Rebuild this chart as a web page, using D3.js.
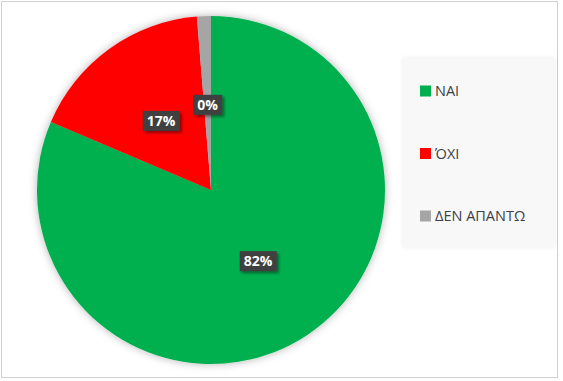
<!DOCTYPE html>
<html>
<head>
<meta charset="utf-8">
<script src="https://cdn.jsdelivr.net/npm/d3@7"></script>
<style>
  html, body { margin: 0; padding: 0; background: #ffffff; }
  svg { display: block; }
</style>
</head>
<body>
<svg id="chart" width="563" height="381"></svg>
<script>
// ---- data ----
const categories = ["ΝΑΙ", "ΌΧΙ", "ΔΕΝ ΑΠΑΝΤΩ"];
const values = [81.4, 17.3, 1.3];
const valueLabels = ["82%", "17%", "0%"];
const colors = ["#00b050", "#ff0000", "#a5a5a5"];

const svg = d3.select("#chart");

// defs: shadows
const defs = svg.append("defs");
const f1 = defs.append("filter").attr("id", "pieShadow")
  .attr("x", "-20%").attr("y", "-20%").attr("width", "140%").attr("height", "140%");
f1.append("feDropShadow").attr("dx", 0).attr("dy", 0).attr("stdDeviation", 4)
  .attr("flood-color", "#000").attr("flood-opacity", 0.3);
const f2 = defs.append("filter").attr("id", "lblShadow")
  .attr("x", "-30%").attr("y", "-30%").attr("width", "160%").attr("height", "160%");
f2.append("feDropShadow").attr("dx", 2).attr("dy", 2).attr("stdDeviation", 1.5)
  .attr("flood-color", "#000").attr("flood-opacity", 0.45);
const f3 = defs.append("filter").attr("id", "legShadow")
  .attr("x", "-20%").attr("y", "-20%").attr("width", "140%").attr("height", "140%");
f3.append("feDropShadow").attr("dx", 0).attr("dy", 0).attr("stdDeviation", 2)
  .attr("flood-color", "#000").attr("flood-opacity", 0.08);

// outer border
svg.append("rect").attr("x", 1.5).attr("y", 1.5).attr("width", 556).attr("height", 376)
  .attr("fill", "#ffffff").attr("stroke", "#d0d0d0").attr("stroke-width", 1);

// pie
const cx = 211, cy = 190, R = 174;
const pie = d3.pie().sort(null).value(d => d)(values);
const arc = d3.arc().innerRadius(0).outerRadius(R);
const labelArc = d3.arc().innerRadius(R * 0.49).outerRadius(R * 0.49);

const g = svg.append("g").attr("transform", `translate(${cx},${cy})`);
g.append("g").attr("filter", "url(#pieShadow)")
  .selectAll("path").data(pie).join("path")
  .attr("d", arc)
  .attr("fill", (d, i) => colors[i]);

// data labels
const lg = g.selectAll("g.lbl").data(pie).join("g").attr("class", "lbl")
  .attr("transform", d => {
    const [x, y] = labelArc.centroid(d);
    return `translate(${x},${y})`;
  });
lg.each(function(d, i) {
  const sel = d3.select(this);
  const t = sel.append("text")
    .attr("text-anchor", "middle").attr("dy", "0.37em")
    .attr("font-family", "'Open Sans', 'Noto Sans', sans-serif")
    .attr("font-weight", "bold").attr("font-size", 14)
    .attr("fill", "#ffffff").text(valueLabels[i]);
  const bb = t.node().getBBox();
  sel.insert("rect", "text")
    .attr("x", bb.x - 4).attr("y", -10).attr("width", bb.width + 8).attr("height", 20)
    .attr("fill", "#404040").attr("filter", "url(#lblShadow)");
});

// legend
svg.append("rect").attr("x", 403).attr("y", 58).attr("width", 152).attr("height", 189)
  .attr("fill", "#f8f8f8").attr("filter", "url(#legShadow)");
const legY = d3.scalePoint().domain(categories).range([91, 216]);
const leg = svg.selectAll("g.leg").data(categories).join("g").attr("class", "leg")
  .attr("transform", d => `translate(420,${legY(d)})`);
leg.append("rect").attr("x", 0).attr("y", -5.5).attr("width", 11).attr("height", 11)
  .attr("fill", (d, i) => colors[i]);
leg.append("text").attr("x", 15).attr("dy", "0.36em")
  .attr("font-family", "'Open Sans', 'Noto Sans', sans-serif")
  .attr("font-size", 14.5).attr("fill", "#404040")
  .text(d => d);
</script>
</body>
</html>
